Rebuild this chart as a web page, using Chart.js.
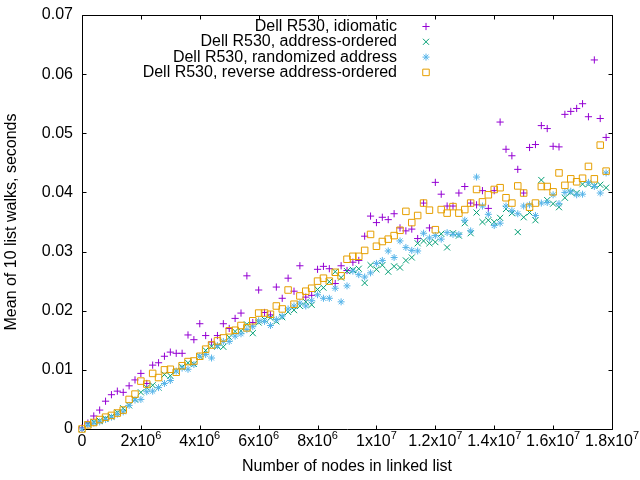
<!DOCTYPE html>
<html>
<head>
    <title>Linked list walk timing</title>
    <script src="https://cdn.jsdelivr.net/npm/chart.js@4"></script>
    <style>
        body { margin: 0; background: #fff; }
        #wrap { width: 640px; height: 480px; }
    </style>
</head>
<body>
    <div id="wrap"><canvas id="walkChart" width="640" height="480"></canvas></div>

    <script>
        // number of nodes in the list (x) - same for every series
        const nodeCounts = [
            0, 200000, 400000, 600000, 800000, 1000000, 1200000, 1400000, 1600000, 1800000,
            2000000, 2200000, 2400000, 2600000, 2800000, 3000000, 3200000, 3400000, 3600000, 3800000,
            4000000, 4200000, 4400000, 4600000, 4800000, 5000000, 5200000, 5400000, 5600000, 5800000,
            6000000, 6200000, 6400000, 6600000, 6800000, 7000000, 7200000, 7400000, 7600000, 7800000,
            8000000, 8200000, 8400000, 8600000, 8800000, 9000000, 9200000, 9400000, 9600000, 9800000,
            10000000, 10200000, 10400000, 10600000, 10800000, 11000000, 11200000, 11400000, 11600000, 11800000,
            12000000, 12200000, 12400000, 12600000, 12800000, 13000000, 13200000, 13400000, 13600000, 13800000,
            14000000, 14200000, 14400000, 14600000, 14800000, 15000000, 15200000, 15400000, 15600000, 15800000,
            16000000, 16200000, 16400000, 16600000, 16800000, 17000000, 17200000, 17400000, 17600000, 17800000
        ];

        // mean of 10 walks, seconds
        const idiomatic = [
            0.0002, 0.0010, 0.0022, 0.0032, 0.0047, 0.0058, 0.0064, 0.0062, 0.0073, 0.0083,
            0.0094, 0.0077, 0.0108, 0.0112, 0.0123, 0.0130, 0.0128, 0.0128, 0.0159, 0.0151,
            0.0178, 0.0158, 0.0147, 0.0158, 0.0178, 0.0170, 0.0187, 0.0196, 0.0259, 0.0180,
            0.0235, 0.0197, 0.0193, 0.0240, 0.0221, 0.0255, 0.0233, 0.0276, 0.0223, 0.0226,
            0.0270, 0.0275, 0.0271, 0.0246, 0.0276, 0.0268, 0.0282, 0.0285, 0.0326, 0.0360,
            0.0349, 0.0358, 0.0354, 0.0364, 0.0340, 0.0335, 0.0338, 0.0322, 0.0382, 0.0340,
            0.0417, 0.0397, 0.0377, 0.0377, 0.0399, 0.0410, 0.0382, 0.0379, 0.0403, 0.0373,
            0.0403, 0.0519, 0.0473, 0.0462, 0.0439, 0.0399, 0.0476, 0.0481, 0.0513, 0.0508,
            0.0478, 0.0477, 0.0532, 0.0537, 0.0542, 0.0550, 0.0528, 0.0624, 0.0525, 0.0493
        ];
        const addressOrdered = [
            0.0000, 0.0008, 0.0012, 0.0014, 0.0018, 0.0021, 0.0028, 0.0035, 0.0040, 0.0050,
            0.0062, 0.0070, 0.0074, 0.0070, 0.0092, 0.0090, 0.0098, 0.0105, 0.0112, 0.0110,
            0.0123, 0.0133, 0.0140, 0.0140, 0.0139, 0.0155, 0.0165, 0.0166, 0.0177, 0.0162,
            0.0180, 0.0185, 0.0188, 0.0182, 0.0189, 0.0198, 0.0201, 0.0208, 0.0215, 0.0210,
            0.0236, 0.0239, 0.0249, 0.0266, 0.0256, 0.0267, 0.0269, 0.0271, 0.0247, 0.0277,
            0.0270, 0.0277, 0.0266, 0.0275, 0.0273, 0.0285, 0.0290, 0.0314, 0.0318, 0.0314,
            0.0316, 0.0330, 0.0307, 0.0331, 0.0327, 0.0348, 0.0331, 0.0366, 0.0350, 0.0353,
            0.0350, 0.0357, 0.0372, 0.0365, 0.0333, 0.0358, 0.0366, 0.0353, 0.0421, 0.0387,
            0.0381, 0.0375, 0.0391, 0.0400, 0.0399, 0.0414, 0.0414, 0.0411, 0.0413, 0.0408
        ];
        const randomizedAddress = [
            0.0000, 0.0007, 0.0010, 0.0012, 0.0016, 0.0020, 0.0025, 0.0029, 0.0040, 0.0049,
            0.0050, 0.0063, 0.0064, 0.0070, 0.0077, 0.0082, 0.0098, 0.0103, 0.0101, 0.0109,
            0.0123, 0.0126, 0.0120, 0.0141, 0.0148, 0.0148, 0.0157, 0.0161, 0.0168, 0.0173,
            0.0183, 0.0182, 0.0175, 0.0185, 0.0191, 0.0203, 0.0208, 0.0213, 0.0208, 0.0217,
            0.0227, 0.0221, 0.0221, 0.0238, 0.0215, 0.0242, 0.0267, 0.0261, 0.0257, 0.0264,
            0.0280, 0.0285, 0.0301, 0.0290, 0.0318, 0.0307, 0.0302, 0.0301, 0.0331, 0.0323,
            0.0327, 0.0321, 0.0332, 0.0329, 0.0329, 0.0353, 0.0335, 0.0426, 0.0377, 0.0363,
            0.0344, 0.0348, 0.0377, 0.0369, 0.0364, 0.0377, 0.0379, 0.0361, 0.0382, 0.0383,
            0.0396, 0.0381, 0.0400, 0.0402, 0.0396, 0.0397, 0.0417, 0.0410, 0.0399, 0.0433
        ];
        const reverseOrdered = [
            0.0000, 0.0007, 0.0011, 0.0016, 0.0020, 0.0023, 0.0027, 0.0032, 0.0050, 0.0059,
            0.0081, 0.0076, 0.0094, 0.0087, 0.0100, 0.0101, 0.0096, 0.0107, 0.0114, 0.0115,
            0.0123, 0.0135, 0.0142, 0.0149, 0.0154, 0.0166, 0.0167, 0.0175, 0.0171, 0.0183,
            0.0196, 0.0196, 0.0194, 0.0208, 0.0203, 0.0235, 0.0211, 0.0225, 0.0233, 0.0238,
            0.0250, 0.0255, 0.0250, 0.0265, 0.0259, 0.0287, 0.0292, 0.0292, 0.0302, 0.0329,
            0.0309, 0.0317, 0.0321, 0.0327, 0.0336, 0.0368, 0.0349, 0.0361, 0.0382, 0.0370,
            0.0337, 0.0371, 0.0365, 0.0376, 0.0365, 0.0371, 0.0382, 0.0405, 0.0384, 0.0396,
            0.0405, 0.0408, 0.0391, 0.0382, 0.0411, 0.0399, 0.0375, 0.0382, 0.0410, 0.0410,
            0.0401, 0.0433, 0.0412, 0.0423, 0.0418, 0.0424, 0.0444, 0.0423, 0.0480, 0.0436
        ];

        const seriesNames = [
            'Dell R530, idiomatic',
            'Dell R530, address-ordered',
            'Dell R530, randomized address',
            'Dell R530, reverse address-ordered'
        ];
        // "^" marks the exponent, drawn raised and smaller like gnuplot's enhanced text
        const xTickLabels = ['0', '2x10^6', '4x10^6', '6x10^6', '8x10^6',
            '1x10^7', '1.2x10^7', '1.4x10^7', '1.6x10^7', '1.8x10^7'];
        const yTickLabels = ['0', '0.01', '0.02', '0.03', '0.04', '0.05', '0.06', '0.07'];

        const FONT = '"Liberation Sans", Arial, sans-serif';
        Chart.defaults.font.family = FONT;
        Chart.defaults.font.size = 16;
        Chart.defaults.color = '#000';

        function toPoints(ys) {
            return ys.map((y, i) => ({ x: nodeCounts[i], y: y }));
        }

        function makeSeries(label, ys, color, style, radius, order) {
            return {
                label: label,
                data: toPoints(ys),
                pointStyle: style,
                pointRadius: radius,
                pointHoverRadius: radius,
                pointBorderWidth: 1,
                pointBorderColor: color,
                pointBackgroundColor: 'rgba(0,0,0,0)',
                borderColor: color,
                showLine: false,
                clip: false,
                order: order
            };
        }

        // gnuplot-like box with inward tics on all four sides
        const framePlugin = {
            id: 'frame',
            beforeDatasetsDraw(chart) {
                const ctx = chart.ctx;
                const a = chart.chartArea;
                const l = Math.round(a.left) + 0.5, r = Math.round(a.right) + 0.5;
                const t = Math.round(a.top) + 0.5, b = Math.round(a.bottom) + 0.5;
                const tic = 4;
                ctx.save();
                ctx.strokeStyle = '#000';
                ctx.lineWidth = 1;
                ctx.beginPath();
                ctx.rect(l, t, r - l, b - t);
                chart.scales.x.ticks.forEach(tk => {
                    const x = Math.round(chart.scales.x.getPixelForValue(tk.value)) + 0.5;
                    ctx.moveTo(x, b); ctx.lineTo(x, b - tic);
                    ctx.moveTo(x, t); ctx.lineTo(x, t + tic);
                });
                chart.scales.y.ticks.forEach(tk => {
                    const y = Math.round(chart.scales.y.getPixelForValue(tk.value)) + 0.5;
                    ctx.moveTo(l, y); ctx.lineTo(l + tic, y);
                    ctx.moveTo(r, y); ctx.lineTo(r - tic, y);
                });
                ctx.stroke();

                // x tick labels with superscript exponents
                const xs = chart.scales.x;
                const baseY = a.bottom + 17;
                ctx.fillStyle = '#000';
                ctx.textAlign = 'left';
                ctx.textBaseline = 'alphabetic';
                xs.ticks.forEach((tk, i) => {
                    const parts = (xTickLabels[i] || '').split('^');
                    ctx.font = '16px ' + FONT;
                    const bw = ctx.measureText(parts[0]).width;
                    let ew = 0;
                    if (parts[1]) {
                        ctx.font = '11px ' + FONT;
                        ew = ctx.measureText(parts[1]).width;
                    }
                    const x0 = xs.getPixelForValue(tk.value) - (bw + ew) / 2;
                    ctx.font = '16px ' + FONT;
                    ctx.fillText(parts[0], x0, baseY);
                    if (parts[1]) {
                        ctx.font = '11px ' + FONT;
                        ctx.fillText(parts[1], x0 + bw, baseY - 7.5);
                    }
                });
                ctx.restore();
            }
        };

        // key in the top right corner: text right aligned, sample to the right
        const keyPlugin = {
            id: 'gpKey',
            afterDraw(chart) {
                const ctx = chart.ctx;
                ctx.save();
                ctx.font = '16px ' + FONT;
                ctx.textAlign = 'right';
                ctx.textBaseline = 'alphabetic';
                chart.data.datasets.forEach((ds, i) => {
                    const base = 31 + i * 15.3;
                    ctx.fillStyle = '#000';
                    ctx.fillText(ds.label, 397, base);
                    ctx.strokeStyle = ds.pointBorderColor;
                    ctx.fillStyle = 'rgba(0,0,0,0)';
                    ctx.lineWidth = 1;
                    Chart.helpers.drawPoint(ctx, {
                        pointStyle: ds.pointStyle,
                        radius: ds.pointRadius,
                        borderWidth: 1,
                        rotation: 0
                    }, 426, base - 4.5);
                });
                ctx.restore();
            }
        };

        const ctx = document.getElementById('walkChart').getContext('2d');
        new Chart(ctx, {
            type: 'scatter',
            data: {
                datasets: [
                    makeSeries(seriesNames[0], idiomatic, '#9400d3', 'cross', 3.6, 4),
                    makeSeries(seriesNames[1], addressOrdered, '#009e73', 'crossRot', 4.3, 3),
                    makeSeries(seriesNames[2], randomizedAddress, '#56b4e9', 'star', 3.5, 2),
                    makeSeries(seriesNames[3], reverseOrdered, '#e69f00', 'rect', 4.6, 1)
                ]
            },
            options: {
                responsive: false,
                animation: false,
                events: [],
                layout: { padding: { left: 0, top: 15, right: 28, bottom: 0 } },
                plugins: {
                    legend: { display: false },
                    tooltip: { enabled: false }
                },
                scales: {
                    x: {
                        type: 'linear',
                        min: 0,
                        max: 18000000,
                        grid: { display: false, drawTicks: false },
                        border: { display: false },
                        ticks: {
                            display: false,
                            stepSize: 2000000,
                            autoSkip: false,
                            maxRotation: 0
                        },
                        title: {
                            display: true,
                            text: 'Number of nodes in linked list',
                            padding: { top: 0, bottom: 4 }
                        },
                        afterFit: (scale) => {
                            scale.height = 51;
                            scale.paddingLeft = 0;
                            scale.paddingRight = 0;
                        }
                    },
                    y: {
                        min: 0,
                        max: 0.07,
                        grid: { display: false, drawTicks: false },
                        border: { display: false },
                        ticks: {
                            stepSize: 0.01,
                            padding: 9,
                            callback: (value, index) => yTickLabels[index]
                        },
                        title: {
                            display: true,
                            text: 'Mean of 10 list walks, seconds',
                            padding: { top: 2, bottom: 0 }
                        },
                        afterFit: (scale) => {
                            scale.width = 82;
                            scale.paddingTop = 0;
                            scale.paddingBottom = 0;
                        }
                    }
                }
            },
            plugins: [framePlugin, keyPlugin]
        });
    </script>
</body>
</html>
